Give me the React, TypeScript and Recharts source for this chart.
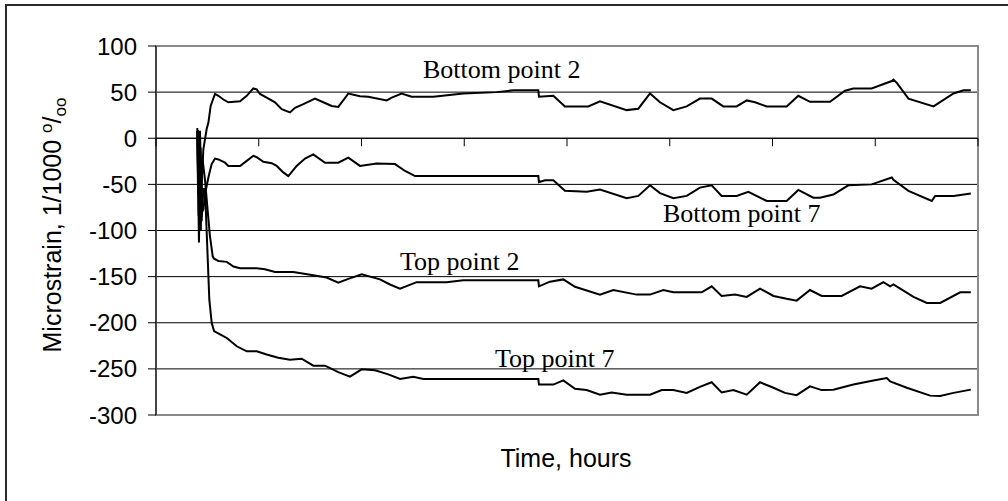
import React from "react";
import {
  LineChart,
  Line,
  XAxis,
  YAxis,
  CartesianGrid,
  ReferenceLine,
  ReferenceArea,
} from "recharts";

type P = { u: number; v: number };
const mk = (arr: number[][]): P[] => arr.map(([u, v]) => ({ u, v }));

// u = elapsed time (arbitrary units, 0..800), v = microstrain
const bottomPoint2 = mk([
  [40.2, 11], [41.5, -84], [42.8, 8], [44.1, -55], [46.1, -12], [49.3, 10], [51, 17], [53.2, 35],
  [57.4, 48], [60.7, 46], [65.6, 42], [70.4, 39], [81.8, 40], [88.3, 46], [94.7, 54], [98, 53],
  [101.2, 48], [107.7, 44], [115.8, 39], [122.3, 31.5], [130.4, 28], [135.3, 33], [143.4, 37],
  [154.7, 43], [162.8, 39], [171, 35], [177.4, 34], [187.2, 48.5], [198.5, 45.5], [206.6, 45],
  [224.5, 41], [229.4, 44], [239.1, 48.5], [248.8, 45], [269.9, 45], [299.1, 48.5], [331.5, 50],
  [347.8, 52], [372.1, 52], [372.7, 45], [386.7, 46], [398, 34.5], [420.7, 34.5], [432.1, 40],
  [458.1, 30.5], [469.4, 32], [480.8, 48.5], [490.5, 39], [503.5, 30.5], [516.5, 34.5],
  [529.4, 43], [540.8, 43], [552.1, 34.5], [565.1, 34.5], [574.9, 41], [583, 39], [594.3, 34.5],
  [613.8, 34.5], [625.1, 46], [636.5, 39.5], [656, 39.5], [670.6, 51.5], [678.7, 54], [696.5, 54],
  [716.1, 62], [717.7, 63.5], [721, 60], [732.3, 43], [756.7, 34.5], [776.2, 48.5], [785.9, 52],
  [793, 52],
]);

const bottomPoint7 = mk([
  [40.8, 9], [42.2, -95], [43.4, -10], [44.8, -80], [46.1, -77], [48.7, -55], [51.3, -41],
  [54.2, -28], [57.4, -22], [60.7, -23], [67.2, -26.5], [70.4, -30], [81.8, -30], [88.3, -24.5],
  [94.7, -19], [98, -20.5], [104.5, -25.5], [112.6, -27], [117.5, -30], [123.9, -37], [128.8, -41],
  [136.9, -30], [145, -22], [153.1, -17.5], [164.5, -26.5], [177.4, -26.5], [187.2, -21],
  [198.5, -30], [214.8, -27.5], [232.6, -28], [242.4, -35.5], [252.1, -41], [372.1, -41],
  [372.7, -47.5], [378.6, -45.5], [386.7, -45.5], [398, -57], [419.1, -58], [432.1, -55.5],
  [458.1, -65], [469.4, -62.5], [480.8, -51], [490.5, -59.5], [503.5, -65], [516.5, -62.5],
  [529.4, -53.5], [540.8, -51], [550.5, -62.5], [565.1, -62.5], [576.5, -58], [594.4, -68],
  [613.8, -68], [625.1, -56], [639.7, -64.5], [646.2, -64.5], [659.2, -61], [673.8, -51],
  [696.5, -50], [716.1, -42.5], [717.7, -45], [732.3, -57], [755, -68], [758.3, -62.5],
  [776.2, -62.5], [793, -60],
]);

const topPoint2 = mk([
  [40, 8], [41, -60], [42.2, 2], [43.6, -100], [45, -20], [47.7, -45], [50, -75], [52.5, -106],
  [55.2, -128], [56.5, -130.5], [60.7, -133], [68.9, -134], [75.4, -139], [81.8, -141], [98, -141],
  [106.1, -142], [115.8, -145], [133.6, -145], [153.1, -148.5], [166.1, -151], [177.4, -156.5],
  [187.2, -152.5], [200.2, -147.5], [218, -153], [227.7, -158.5], [237.5, -163], [253.7, -156],
  [282.9, -156], [299.1, -154], [372.1, -154], [372.7, -160.5], [383.4, -155.5], [396.4, -153],
  [407.8, -161], [432.1, -169.5], [445.1, -164.5], [467.8, -169.5], [480.8, -169.5],
  [493.8, -164.5], [503.5, -167], [531.1, -167], [540.8, -160.5], [550.5, -171], [563.5, -169.5],
  [574.9, -172], [587.9, -163], [600.9, -171], [613.8, -174], [623.5, -176], [636.5, -164.5],
  [647.9, -171], [667.3, -171], [685.2, -160.5], [696.5, -163], [707.9, -156], [714.5, -160.5],
  [717.7, -158.5], [737.2, -172], [750.2, -178.5], [763.2, -178.5], [782.7, -167], [793, -167],
]);

const topPoint7 = mk([
  [40.5, 0], [41.8, -113], [43, -30], [44.4, -90], [46.1, -55], [47.7, -55], [50, -121],
  [51.9, -175], [54.2, -200], [56.5, -209], [62.3, -212.5], [68.9, -216.5], [78.6, -225.5],
  [88.3, -231], [98, -231], [107.7, -234.5], [119, -238], [130.4, -240], [141.8, -239],
  [153.1, -246.5], [164.5, -246.5], [177.4, -253.5], [188.8, -258.5], [200.2, -250.5],
  [213.1, -251.5], [226.1, -256], [237.5, -261], [250.4, -258.5], [260.2, -261], [372.1, -261],
  [372.7, -267], [386.7, -267], [396.4, -262.5], [407.8, -271.5], [419.1, -273], [432.1, -278],
  [443.5, -275.5], [458.1, -278], [480.8, -278], [492.2, -273], [503.5, -273], [516.5, -276],
  [529.4, -269.5], [540.8, -264.5], [550.5, -275.5], [561.9, -273], [574.9, -278], [587.9, -264.5],
  [600.9, -270.5], [612.1, -276], [623.5, -278.5], [636.5, -269], [647.9, -273], [659.2, -272.5],
  [678.7, -267], [698.2, -262.5], [711.2, -260], [714.5, -263.5], [730.7, -270.5], [753.4, -279],
  [763.2, -279.5], [776.2, -276], [793, -272.5],
]);

const yTicks = [-300, -250, -200, -150, -100, -50, 0, 50, 100];
const xTicks = [0, 100, 200, 300, 400, 500, 600, 700, 800];
const xTickLen = 8.7;

const seriesList = [
  { name: "Bottom point 2", data: bottomPoint2 },
  { name: "Bottom point 7", data: bottomPoint7 },
  { name: "Top point 2", data: topPoint2 },
  { name: "Top point 7", data: topPoint7 },
];

const annotations = [
  { text: "Bottom point 2", x: 423, y: 78 },
  { text: "Bottom point 7", x: 663, y: 222 },
  { text: "Top point 2", x: 400, y: 270 },
  { text: "Top point 7", x: 495, y: 367 },
];

const SANS = "'Liberation Sans', Arial, sans-serif";
const SERIF = "'Liberation Serif', 'Times New Roman', serif";

export default function App() {
  return (
    <div style={{ position: "absolute", left: 0, top: 0, width: 1008, height: 501, overflow: "hidden", background: "#fff" }}>
      <div
        style={{
          position: "absolute",
          left: 5,
          top: 4,
          width: 1100,
          height: 600,
          border: "2px solid #2a2a2a",
        }}
      />
      <div style={{ position: "absolute", left: 0, top: 0 }}>
        <LineChart
          width={1008}
          height={501}
          margin={{ top: 46, right: 30, bottom: 86, left: 0 }}
        >
          <CartesianGrid horizontal vertical={false} stroke="#000" strokeWidth={1} />
          <ReferenceArea
            x1={0}
            x2={800}
            y1={-300}
            y2={100}
            fill="none"
            stroke="#8a8a8a"
            strokeWidth={2}
            fillOpacity={0}
          />
          <XAxis
            type="number"
            dataKey="u"
            domain={[0, 800]}
            ticks={xTicks}
            hide
            allowDuplicatedCategory={false}
          />
          <YAxis
            type="number"
            domain={[-300, 100]}
            ticks={yTicks}
            width={156}
            tickSize={8}
            tickMargin={11}
            axisLine={{ stroke: "#000", strokeWidth: 1 }}
            tickLine={{ stroke: "#000", strokeWidth: 1 }}
            tick={{ fill: "#000", fontSize: 24, fontFamily: SANS }}
            interval={0}
          />
          <ReferenceLine y={0} stroke="#000" strokeWidth={1} />
          {xTicks.map((t) => (
            <ReferenceLine
              key={t}
              segment={[
                { x: t, y: 0 },
                { x: t, y: -xTickLen },
              ]}
              stroke="#000"
              strokeWidth={1}
            />
          ))}
          {seriesList.map((s) => (
            <Line
              key={s.name}
              name={s.name}
              data={s.data}
              dataKey="v"
              type="linear"
              stroke="#000"
              strokeWidth={2}
              dot={false}
              activeDot={false}
              isAnimationActive={false}
            />
          ))}
        </LineChart>
      </div>
      <svg
        width={1008}
        height={501}
        style={{ position: "absolute", left: 0, top: 0, pointerEvents: "none" }}
      >
        {annotations.map((a) => (
          <text key={a.text} x={a.x} y={a.y} fontFamily={SERIF} fontSize={26} fill="#000">
            {a.text}
          </text>
        ))}
        <text x={566} y={467} textAnchor="middle" fontFamily={SANS} fontSize={25} fill="#000">
          Time, hours
        </text>
        <text
          x={61}
          y={225}
          transform="rotate(-90 61 225)"
          textAnchor="middle"
          fontFamily={SANS}
          fontSize={25}
          fill="#000"
        >
          Microstrain, 1/1000{" "}
          <tspan fontSize={17} dy={-9}>o</tspan>
          <tspan dy={9}>/</tspan>
          <tspan fontSize={17} dy={5}>oo</tspan>
        </text>
      </svg>
    </div>
  );
}
